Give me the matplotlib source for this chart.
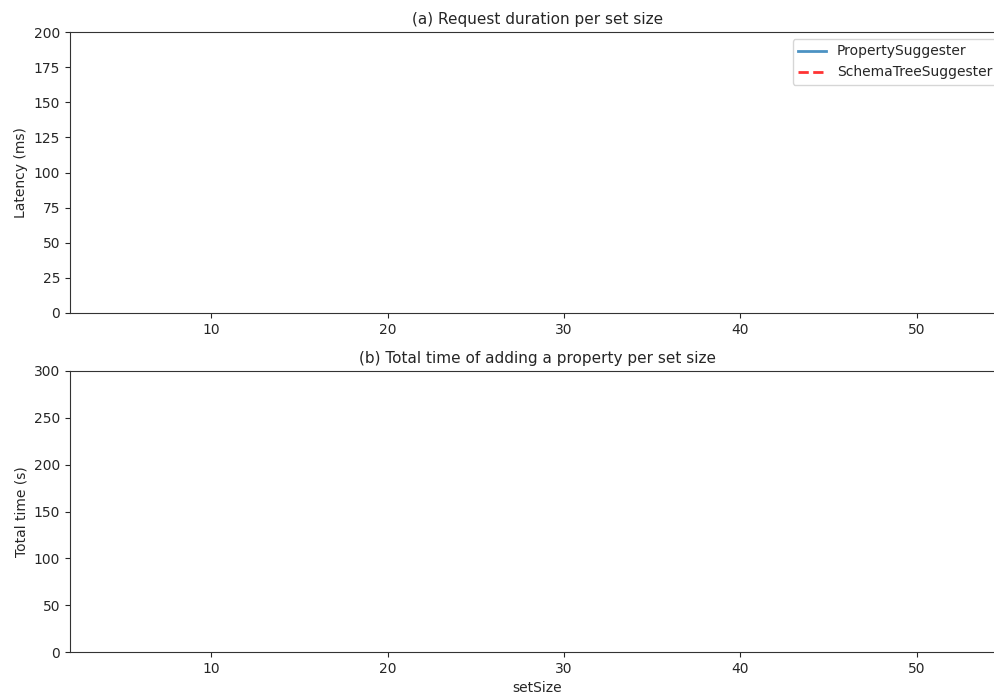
import matplotlib
matplotlib.use('Agg')
import matplotlib.pyplot as plt

# the reference panels show no data points, only the empty frames
set_size = []
ps_latency = []
st_latency = []
ps_total = []
st_total = []

plt.rcParams['text.color'] = '#262626'
plt.rcParams['axes.labelcolor'] = '#262626'
plt.rcParams['xtick.color'] = '#262626'
plt.rcParams['ytick.color'] = '#262626'
plt.rcParams['axes.edgecolor'] = '#333333'

fig = plt.figure(figsize=(9.95, 6.96), dpi=100)
ax1 = fig.add_axes([70 / 995, 1 - 313 / 696, 935 / 995, 281 / 696])
ax2 = fig.add_axes([70 / 995, 1 - 652 / 696, 935 / 995, 281 / 696])

ax1.plot(set_size, ps_latency, c='#1f77b4', alpha=0.8, lw=2, label='PropertySuggester')
ax1.plot(set_size, st_latency, c='red', alpha=0.8, lw=2, linestyle='--', label='SchemaTreeSuggester')
ax1.set_xlim(2, 55)
ax1.set_ylim(0, 200)
ax1.set_xticks([10, 20, 30, 40, 50])
ax1.set_ylabel('Latency (ms)')
ax1.set_title('(a) Request duration per set size', fontsize=11)
ax1.legend(loc='upper right')

ax2.plot(set_size, ps_total, c='#1f77b4', alpha=0.8, lw=2)
ax2.plot(set_size, st_total, c='red', alpha=0.8, lw=2, linestyle='--')
ax2.set_xlim(2, 55)
ax2.set_ylim(0, 300)
ax2.set_xticks([10, 20, 30, 40, 50])
ax2.set_ylabel('Total time (s)')
ax2.set_xlabel('setSize')
ax2.set_title('(b) Total time of adding a property per set size', fontsize=11)

plt.savefig('out.png')
